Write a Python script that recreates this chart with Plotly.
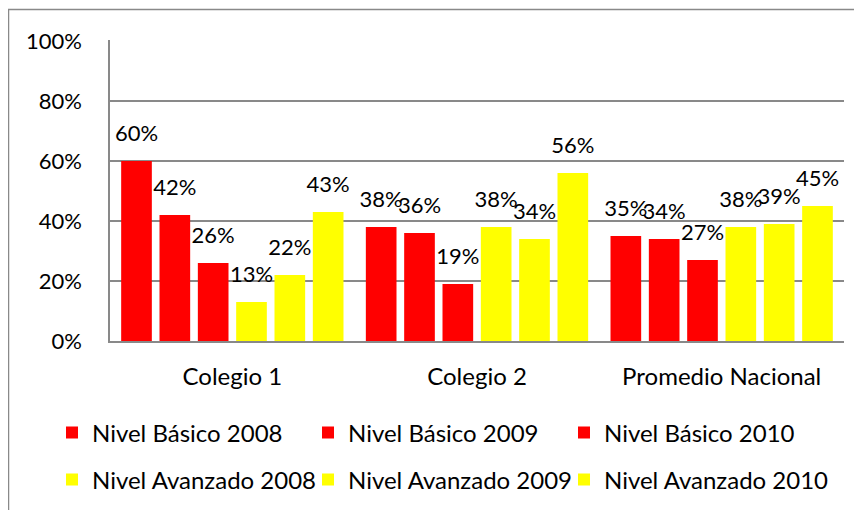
import plotly.graph_objects as go

categories = ["Colegio 1", "Colegio 2", "Promedio Nacional"]
series_names = [
    "Nivel Básico 2008", "Nivel Básico 2009", "Nivel Básico 2010",
    "Nivel Avanzado 2008", "Nivel Avanzado 2009", "Nivel Avanzado 2010",
]
basico_2008 = [0.60, 0.38, 0.35]
basico_2009 = [0.42, 0.36, 0.34]
basico_2010 = [0.26, 0.19, 0.27]
avanzado_2008 = [0.13, 0.38, 0.38]
avanzado_2009 = [0.22, 0.34, 0.39]
avanzado_2010 = [0.43, 0.56, 0.45]
series_values = [basico_2008, basico_2009, basico_2010,
                 avanzado_2008, avanzado_2009, avanzado_2010]
series_colors = ["#FF0000", "#FF0000", "#FF0000", "#FFFF00", "#FFFF00", "#FFFF00"]
y_tick_vals = [0, 0.2, 0.4, 0.6, 0.8, 1.0]
y_tick_text = ["0%", "20%", "40%", "60%", "80%", "100%"]

FONT = "Lato, 'Open Sans', sans-serif"
FS_NUM = 22
FS_TXT = 24
GREY = "#898989"

# page offset (body margin) of the rendered figure
OFF = 8
W, H = 862 - OFF, 510 - OFF
# plot area in page pixels: x 110..844, y 40..341
PL, PR, PT, PB = 110, 844, 40, 341
L, T = PL - OFF, PT - OFF
R, B = W - (PR - OFF), H - (PB - OFF)
pw, ph = PR - PL, PB - PT

def px_x(p):
    return (p - PL) / pw

def px_y(p):
    return (PB - p) / ph

# legend layout: 3 columns x 2 rows (page pixels)
legend_cols = [52, 308, 564]
legend_rows = [433, 480]
legend_ids = ["legend", "legend2", "legend3", "legend4", "legend5", "legend6"]

fig = go.Figure()
for i, (name, vals, col) in enumerate(zip(series_names, series_values, series_colors)):
    fig.add_trace(go.Bar(
        x=categories, y=vals, name=name, marker=dict(color=col, line=dict(width=0)),
        texttemplate=("<span style='font-size:%dpx'>%%{y:.0%%}</span><br>"
                      "<span style='font-size:3px;color:white'>.</span>") % FS_NUM,
        textposition="outside", textangle=0, constraintext="none", cliponaxis=False,
        textfont=dict(family=FONT, size=12, color="black"),
        legend=legend_ids[i],
    ))

legends = {}
for i, lid in enumerate(legend_ids):
    legends[lid] = dict(
        orientation="h", x=px_x(legend_cols[i % 3]), xanchor="left",
        y=px_y(legend_rows[i // 3]), yanchor="middle",
        font=dict(size=FS_TXT), bgcolor="rgba(0,0,0,0)",
    )

fig.update_layout(
    width=W, height=H,
    margin=dict(l=L, r=R, t=T, b=B, autoexpand=False),
    paper_bgcolor="white", plot_bgcolor="white",
    font=dict(family=FONT, size=FS_TXT, color="black"),
    barmode="group", bargap=0.06, bargroupgap=0.2,
    showlegend=True,
    xaxis=dict(showline=True, linecolor=GREY, linewidth=1.5, showgrid=False,
               ticks="", ticklabelstandoff=13, tickfont=dict(size=FS_TXT)),
    yaxis=dict(range=[0, 1.003], tickvals=y_tick_vals, ticktext=y_tick_text,
               showline=True, linecolor=GREY, linewidth=1.5,
               showgrid=True, gridcolor=GREY, gridwidth=1.5, zeroline=False,
               ticks="", ticklabelstandoff=22, tickfont=dict(size=FS_NUM)),
    shapes=[dict(type="rect", xref="paper", yref="paper",
                 x0=px_x(8.5), x1=px_x(875), y0=px_y(525), y1=px_y(9.5),
                 line=dict(color=GREY, width=1.5), fillcolor="rgba(0,0,0,0)", layer="below")],
    **legends,
)

fig.write_html("out.html")
